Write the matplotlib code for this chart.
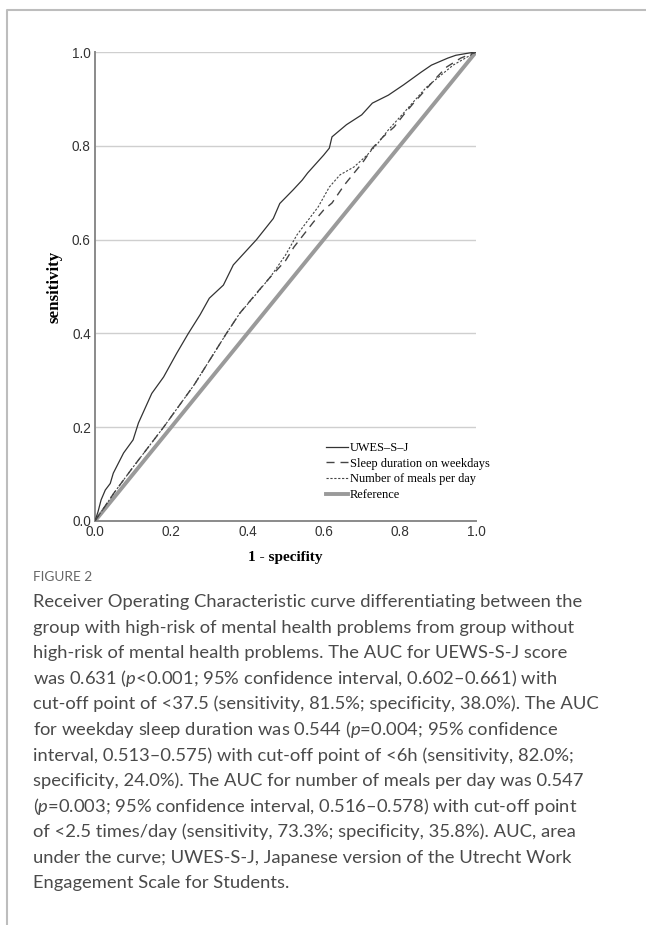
import numpy as np
import matplotlib
matplotlib.use("Agg")
import matplotlib.pyplot as plt
from matplotlib import font_manager
from matplotlib.lines import Line2D

plt.rcParams['mathtext.fontset'] = 'custom'
plt.rcParams['mathtext.it'] = 'Lato:italic'
plt.rcParams['mathtext.rm'] = 'Lato'

# ROC curves (x = 1 - specificity, y = sensitivity)
uwes_x = [0, 0.008, 0.016, 0.027, 0.04, 0.048, 0.075, 0.1, 0.114, 0.149, 0.18, 0.214,
          0.245, 0.276, 0.30, 0.337, 0.363, 0.424, 0.468, 0.485, 0.52, 0.544, 0.558,
          0.60, 0.615, 0.622, 0.66, 0.70, 0.728, 0.77, 0.81, 0.856, 0.883, 0.926,
          0.947, 0.983, 1.0]
uwes_y = [0, 0.02, 0.045, 0.066, 0.08, 0.102, 0.145, 0.173, 0.209, 0.272, 0.307, 0.357,
          0.40, 0.44, 0.475, 0.503, 0.546, 0.60, 0.645, 0.677, 0.706, 0.727, 0.742,
          0.78, 0.795, 0.819, 0.845, 0.866, 0.891, 0.908, 0.93, 0.957, 0.972, 0.987,
          0.993, 0.998, 1.0]

sleep_x = [0, 0.05, 0.1, 0.18, 0.26, 0.345, 0.38, 0.424, 0.46, 0.5, 0.522, 0.573, 0.60,
           0.622, 0.654, 0.68, 0.703, 0.728, 0.756, 0.785, 0.81, 0.835, 0.898, 0.923,
           0.96, 1.0]
sleep_y = [0, 0.06, 0.115, 0.2, 0.29, 0.4, 0.443, 0.486, 0.52, 0.555, 0.584, 0.637, 0.663,
           0.678, 0.716, 0.742, 0.765, 0.795, 0.819, 0.84, 0.866, 0.89, 0.947, 0.968,
           0.987, 1.0]

meals_x = [0, 0.05, 0.1, 0.18, 0.26, 0.345, 0.38, 0.417, 0.46, 0.5, 0.53, 0.586, 0.615,
           0.643, 0.68, 0.714, 0.743, 0.77, 0.81, 0.87, 0.94, 1.0]
meals_y = [0, 0.06, 0.115, 0.2, 0.29, 0.4, 0.443, 0.478, 0.52, 0.567, 0.61, 0.67, 0.712,
           0.738, 0.755, 0.78, 0.806, 0.834, 0.87, 0.925, 0.972, 1.0]

ref_x = [0, 1]
ref_y = [0, 1]

legend_labels = ['UWES\u2013S\u2013J', 'Sleep duration on weekdays',
                 'Number of meals per day', 'Reference']
ticks = [0.0, 0.2, 0.4, 0.6, 0.8, 1.0]

caption_title = 'FIGURE 2'
caption_lines = [
    'Receiver Operating Characteristic curve differentiating between the',
    'group with high-risk of mental health problems from group without',
    'high-risk of mental health problems. The AUC for UEWS-S-J score',
    'was 0.631 ($p$<0.001; 95% confidence interval, 0.602\u20130.661) with',
    'cut-off point of <37.5 (sensitivity, 81.5%; specificity, 38.0%). The AUC',
    'for weekday sleep duration was 0.544 ($p$=0.004; 95% confidence',
    'interval, 0.513\u20130.575) with cut-off point of <6h (sensitivity, 82.0%;',
    'specificity, 24.0%). The AUC for number of meals per day was 0.547',
    '($p$=0.003; 95% confidence interval, 0.516\u20130.578) with cut-off point',
    'of <2.5 times/day (sensitivity, 73.3%; specificity, 35.8%). AUC, area',
    'under the curve; UWES-S-J, Japanese version of the Utrecht Work',
    'Engagement Scale for Students.',
]

installed = {f.name for f in font_manager.fontManager.ttflist}
tick_font = 'Liberation Sans Narrow' if 'Liberation Sans Narrow' in installed else 'Liberation Sans'

W, H = 646, 925
fig = plt.figure(figsize=(W / 100, H / 100), dpi=100)

# frame around the figure panel
fig.add_artist(Line2D([7 / W, 7 / W, 1.0], [0.0, 1 - 10 / H, 1 - 10 / H],
                      transform=fig.transFigure, color='#bdbdbd', lw=1.5))

L, R, T, B = 95, 476, 52, 521
ax = fig.add_axes([L / W, 1 - B / H, (R - L) / W, (B - T) / H])
ax.plot(ref_x, ref_y, color='#9a9a9a', lw=2.8, solid_capstyle='butt', zorder=2)
ax.plot(uwes_x, uwes_y, color='#333333', lw=0.9, zorder=3)
ax.plot(sleep_x, sleep_y, color='#444444', lw=1.0, dashes=(5.8, 4.3), zorder=3)
ax.plot(meals_x, meals_y, color='#444444', lw=0.8, dashes=(2, 1.5), zorder=3)

ax.set_xlim(0, 1)
ax.set_ylim(0, 1)
ax.set_xticks(ticks)
ax.set_yticks(ticks)
ax.set_xticklabels(['%.1f' % t for t in ticks])
ax.set_yticklabels(['%.1f' % t for t in ticks])
ax.tick_params(length=0, pad=3, labelsize=9.8, labelcolor='#333333')
for lab in ax.get_xticklabels() + ax.get_yticklabels():
    lab.set_family(tick_font)
for y in ticks[1:]:
    ax.axhline(y, color='#cfcfcf', lw=1.0, zorder=1)
for s in ['top', 'right']:
    ax.spines[s].set_visible(False)
for s in ['left', 'bottom']:
    ax.spines[s].set_color('#8a8a8a')
    ax.spines[s].set_linewidth(1.4)

ax.set_xlabel('1 - specifity', family='Liberation Serif', weight='bold',
              fontsize=11, va='center')
ax.xaxis.set_label_coords(0.5, (B - 557) / (B - T))
ax.set_ylabel('sensitivity', family='Liberation Serif', weight='bold',
              fontsize=12.2, va='center')
ax.yaxis.set_label_coords((55 - L) / (R - L), 0.5)

handles = [Line2D([], [], color='#333333', lw=0.9),
           Line2D([], [], color='#444444', lw=1.0, dashes=(5.8, 4.3)),
           Line2D([], [], color='#444444', lw=0.8, dashes=(2, 1.5)),
           Line2D([], [], color='#9a9a9a', lw=2.8)]
ax.legend(handles, legend_labels, loc='lower left',
          bbox_to_anchor=((326 - L) / (R - L), (B - 501) / (B - T)),
          frameon=False, handlelength=1.8, handletextpad=0.15, labelspacing=0.3,
          borderpad=0, borderaxespad=0,
          prop={'family': 'Liberation Serif', 'size': 8.9})

fig.text(33 / W, 1 - 577 / H, caption_title, family='Lato', fontsize=9.8,
         color='#666666', va='center')
for i, line in enumerate(caption_lines):
    fig.text(33 / W, 1 - (602 + i * 25.55) / H, line, family='Lato', fontsize=13.2,
             color='#4a4a4a', va='center')

fig.savefig('out.png', dpi=100)
